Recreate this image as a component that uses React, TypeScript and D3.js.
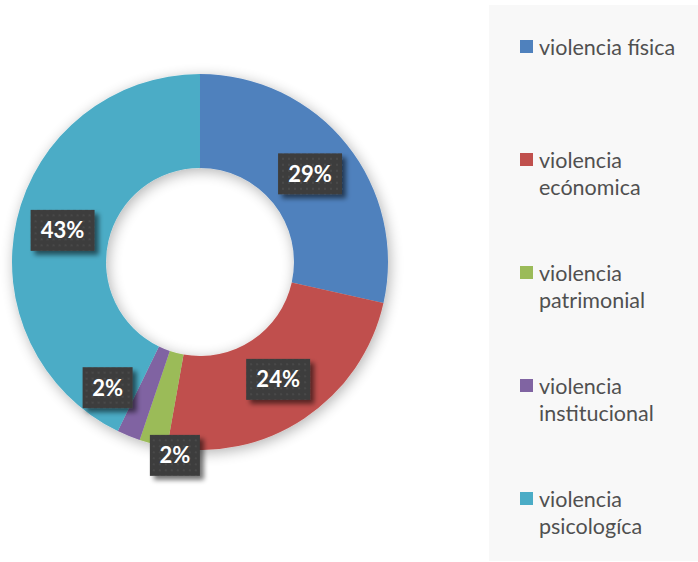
import React, { useEffect, useRef } from 'react'
import * as d3 from 'd3'

const W = 698
const H = 562

const categories = ['violencia física', 'violencia ecónomica', 'violencia patrimonial', 'violencia institucional', 'violencia psicologíca']
const legendLines = [['violencia física'], ['violencia', 'ecónomica'], ['violencia', 'patrimonial'], ['violencia', 'institucional'], ['violencia', 'psicologíca']]
const shares = [28.5, 24.3, 2.4, 2.0, 42.8]
const labels = ['29%', '24%', '2%', '2%', '43%']
const colors = ['#4f81bd', '#c0504d', '#9bbb59', '#8064a2', '#4bacc6']
// label placement: radius and angle nudge (deg) for the small slices
const labelRadius = [141, 141, 195, 156, 141]
const labelNudge = [0, 0, -7, 14, 0]

function App() {
    const ref = useRef<SVGSVGElement>(null)

    useEffect(() => {
        const svg = d3.select(ref.current)
        svg.selectAll('*').remove()

        const cx = 200, cy = 262
        const outerR = 188, innerR = 94

        const defs = svg.append('defs')
        const sh = defs.append('filter').attr('id', 'ringShadow')
            .attr('x', '-20%').attr('y', '-20%').attr('width', '140%').attr('height', '140%')
        sh.append('feGaussianBlur').attr('in', 'SourceAlpha').attr('stdDeviation', 7)
        sh.append('feOffset').attr('dx', 2).attr('dy', 3).attr('result', 'ob')
        sh.append('feComponentTransfer').append('feFuncA').attr('type', 'linear').attr('slope', 0.3)
        const m = sh.append('feMerge')
        m.append('feMergeNode')
        m.append('feMergeNode').attr('in', 'SourceGraphic')

        const bs = defs.append('filter').attr('id', 'boxShadow')
            .attr('x', '-30%').attr('y', '-30%').attr('width', '170%').attr('height', '180%')
        bs.append('feGaussianBlur').attr('in', 'SourceAlpha').attr('stdDeviation', 2.5)
        bs.append('feOffset').attr('dx', 4).attr('dy', 4)
        bs.append('feComponentTransfer').append('feFuncA').attr('type', 'linear').attr('slope', 0.55)
        const m2 = bs.append('feMerge')
        m2.append('feMergeNode')
        m2.append('feMergeNode').attr('in', 'SourceGraphic')

        const pat = defs.append('pattern').attr('id', 'dots')
            .attr('width', 6).attr('height', 6).attr('patternUnits', 'userSpaceOnUse')
        pat.append('rect').attr('width', 6).attr('height', 6).attr('fill', '#3d3d3d')
        pat.append('circle').attr('cx', 3).attr('cy', 3).attr('r', 1.1).attr('fill', '#4b4b4b')

        // legend panel
        svg.append('rect')
            .attr('x', 489).attr('y', 5).attr('width', 209).attr('height', 556)
            .attr('fill', '#f8f8f8')

        const pie = d3.pie<number>().sort(null).value(d => d)
        const arcs = pie(shares)
        const arc = d3.arc<d3.PieArcDatum<number>>().innerRadius(innerR).outerRadius(outerR)

        const g = svg.append('g').attr('transform', `translate(${cx},${cy})`)
        g.append('g').attr('filter', 'url(#ringShadow)')
            .selectAll('path')
            .data(arcs)
            .join('path')
            .attr('d', arc)
            .attr('fill', (_, i) => colors[i])

        const lg = g.append('g')
        arcs.forEach((a, i) => {
            const mid = (a.startAngle + a.endAngle) / 2 + labelNudge[i] * Math.PI / 180
            const r = labelRadius[i]
            const x = Math.sin(mid) * r
            const y = -Math.cos(mid) * r
            const bw = labels[i].length === 3 ? 64 : 50
            const bh = 41
            const cell = lg.append('g').attr('transform', `translate(${x},${y})`)
            cell.append('rect')
                .attr('x', -bw / 2).attr('y', -bh / 2).attr('width', bw).attr('height', bh)
                .attr('fill', 'url(#dots)')
                .attr('filter', 'url(#boxShadow)')
            cell.append('text')
                .attr('text-anchor', 'middle')
                .attr('dy', '0.36em')
                .attr('fill', '#ffffff')
                .attr('font-family', 'Lato, sans-serif')
                .attr('font-weight', 700)
                .attr('font-size', 22)
                .text(labels[i])
        })

        // legend
        const leg = svg.append('g')
        categories.forEach((c, i) => {
            const y0 = 40 + i * 113
            const row = leg.append('g').attr('transform', `translate(520,${y0})`)
            row.append('rect').attr('width', 13).attr('height', 13).attr('fill', colors[i])
            const t = row.append('text')
                .attr('x', 19).attr('y', 15)
                .attr('fill', '#505050')
                .attr('font-family', 'Lato, sans-serif')
                .attr('font-size', 21.5)
            legendLines[i].forEach((ln, j) => {
                t.append('tspan').attr('x', 19).attr('dy', j === 0 ? 0 : 27).text(ln)
            })
        })
    }, [])

    return (
        <svg ref={ref} width={W} height={H}
            style={{ position: 'absolute', left: 0, top: 0, background: '#ffffff' }} />
    )
}

export default App
